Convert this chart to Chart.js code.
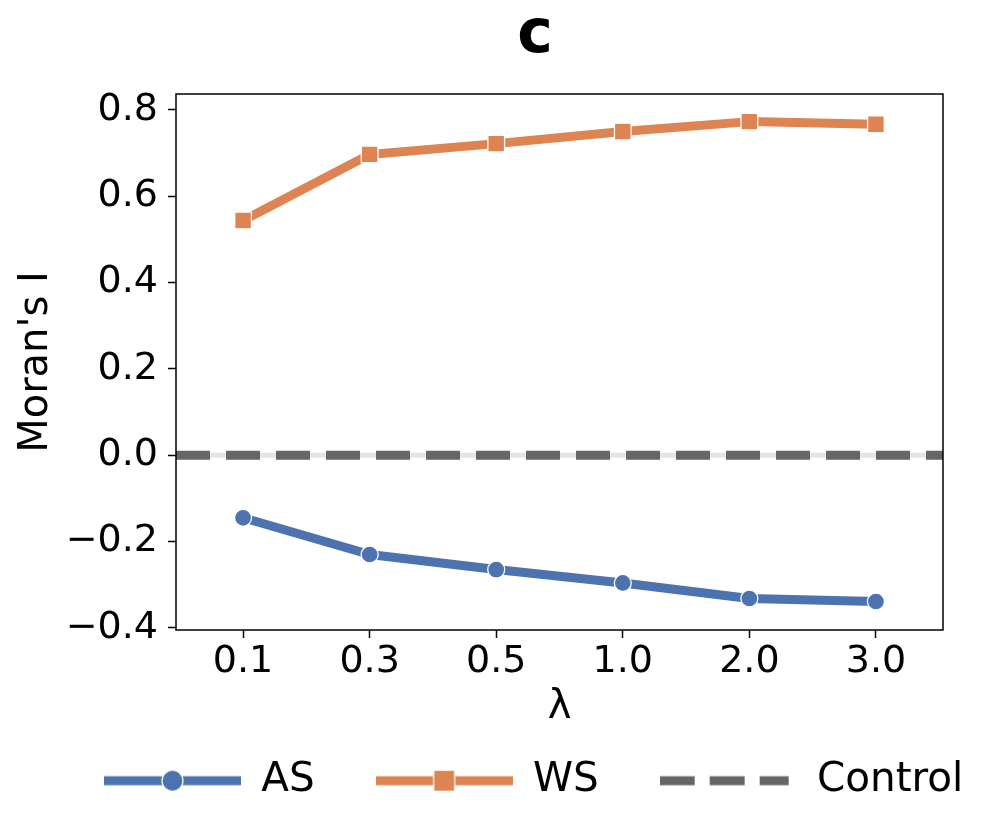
<!DOCTYPE html>
<html>
<head>
<meta charset="utf-8">
<script src="https://cdn.jsdelivr.net/npm/chart.js@4.4.1/dist/chart.umd.min.js"></script>
<style>
  html, body { margin: 0; padding: 0; background: #fff; }
  #wrap { width: 996px; height: 839px; position: relative; }
</style>
</head>
<body>
<div id="wrap"><canvas id="chart"></canvas></div>
<script>
// Data
const lambdaLabels = ['0.1', '0.3', '0.5', '1.0', '2.0', '3.0'];
const asValues = [-0.145, -0.230, -0.265, -0.296, -0.332, -0.339];
const wsValues = [0.544, 0.697, 0.722, 0.750, 0.773, 0.767];
const controlValue = [0, 0];
const yTicks = [-0.4, -0.2, 0.0, 0.2, 0.4, 0.6, 0.8];

const BLUE = '#4c72b0';
const ORANGE = '#dd8452';
const GRAY = '#666666';
const X_MIN = -0.53, X_MAX = 5.53;

Chart.defaults.font.family = "'DejaVu Sans', sans-serif";
Chart.defaults.color = '#000';

function toPoints(values) {
  return values.map((v, i) => ({ x: i, y: v }));
}

// little line+marker samples for the legend
function legendSample(color, marker, dashed) {
  const c = document.createElement('canvas');
  c.width = 137;
  c.height = 26;
  const g = c.getContext('2d');
  g.strokeStyle = color;
  g.lineWidth = 9;
  if (dashed) {
    g.setLineDash([35, 15]);
    g.beginPath(); g.moveTo(0, 13); g.lineTo(129, 13); g.stroke();
  } else {
    g.beginPath(); g.moveTo(0, 13); g.lineTo(137, 13); g.stroke();
  }
  g.fillStyle = color;
  g.strokeStyle = '#fff';
  g.lineWidth = 1.2;
  if (marker === 'circle') {
    g.beginPath(); g.arc(68.5, 13, 10.5, 0, Math.PI * 2); g.fill(); g.stroke();
  } else if (marker === 'rect') {
    g.fillRect(58, 2.5, 21, 21); g.strokeRect(58, 2.5, 21, 21);
  }
  return c;
}

const legendItems = [
  { text: 'AS', img: legendSample(BLUE, 'circle', false) },
  { text: 'WS', img: legendSample(ORANGE, 'rect', false) },
  { text: 'Control', img: legendSample(GRAY, null, true) }
];

// box around the plot like matplotlib spines
const frame = {
  id: 'frame',
  afterDatasetsDraw(chart) {
    const a = chart.chartArea;
    const ctx = chart.ctx;
    ctx.save();
    ctx.strokeStyle = '#000';
    ctx.lineWidth = 1.5;
    ctx.strokeRect(a.left, a.top, a.right - a.left, a.bottom - a.top);
    ctx.restore();
  }
};

// move legend and title to where the reference has them
const nudge = {
  id: 'nudge',
  afterLayout(chart) {
    const lg = chart.legend;
    lg.left += 43; lg.right += 43;
    lg.top -= 28; lg.bottom -= 28;
    const tb = chart.titleBlock;
    tb.left += 37; tb.right += 37;
  }
};

new Chart(document.getElementById('chart'), {
  type: 'line',
  data: {
    datasets: [
      {
        label: 'AS',
        data: toPoints(asValues),
        borderColor: BLUE,
        backgroundColor: BLUE,
        borderWidth: 9,
        borderJoinStyle: 'round',
        pointStyle: 'circle',
        pointRadius: 8.5,
        pointBackgroundColor: BLUE,
        pointBorderColor: '#fff',
        pointBorderWidth: 1.3
      },
      {
        label: 'WS',
        data: toPoints(wsValues),
        borderColor: ORANGE,
        backgroundColor: ORANGE,
        borderWidth: 9,
        borderJoinStyle: 'round',
        pointStyle: 'rect',
        pointRadius: 11.8,
        pointBackgroundColor: ORANGE,
        pointBorderColor: '#fff',
        pointBorderWidth: 1.3
      },
      {
        label: 'Control',
        data: [{ x: X_MIN, y: controlValue[0] }, { x: X_MAX, y: controlValue[1] }],
        borderColor: GRAY,
        borderWidth: 9,
        borderDash: [34, 16],
        pointRadius: 0
      },
      {
        label: 'zero',
        data: [{ x: X_MIN, y: controlValue[0] }, { x: X_MAX, y: controlValue[1] }],
        borderColor: '#e4e4e4',
        borderWidth: 5,
        pointRadius: 0
      }
    ]
  },
  options: {
    responsive: true,
    maintainAspectRatio: false,
    animation: false,
    events: [],
    layout: { padding: 0 },
    plugins: {
      tooltip: { enabled: false },
      title: {
        display: true,
        text: 'c',
        font: { size: 60, weight: 'bold', lineHeight: 1 },
        padding: { top: 6, bottom: 28 }
      },
      legend: {
        position: 'bottom',
        align: 'start',
        labels: {
          usePointStyle: true,
          pointStyleWidth: 137,
          padding: 61,
          font: { size: 40.5 },
          generateLabels() {
            return legendItems.map((it, i) => ({
              text: it.text,
              pointStyle: it.img,
              fillStyle: 'transparent',
              strokeStyle: 'transparent',
              lineWidth: 0,
              hidden: false,
              datasetIndex: i
            }));
          }
        }
      }
    },
    scales: {
      x: {
        type: 'linear',
        min: X_MIN,
        max: X_MAX,
        afterBuildTicks(scale) {
          scale.ticks = lambdaLabels.map((_, i) => ({ value: i }));
        },
        afterFit(scale) { scale.height = 97.5; },
        ticks: {
          font: { size: 38, lineHeight: 1 },
          padding: 5,
          maxRotation: 0,
          autoSkip: false,
          callback: (v) => lambdaLabels[v]
        },
        grid: {
          drawOnChartArea: false,
          drawTicks: true,
          tickLength: 8,
          tickColor: '#000',
          tickWidth: 1.5
        },
        border: { display: false },
        title: {
          display: true,
          text: 'λ',
          font: { size: 40, lineHeight: 1 },
          padding: { top: 0, bottom: 0 }
        }
      },
      y: {
        min: -0.405,
        max: 0.837,
        afterBuildTicks(scale) {
          scale.ticks = yTicks.map(v => ({ value: v }));
        },
        afterFit(scale) { scale.width = 176; },
        ticks: {
          font: { size: 38, lineHeight: 1 },
          padding: 10,
          callback: (v) => (v < 0 ? '\u2212' + Math.abs(v).toFixed(1) : v.toFixed(1))
        },
        grid: {
          drawOnChartArea: false,
          drawTicks: true,
          tickLength: 8,
          tickColor: '#000',
          tickWidth: 1.5
        },
        border: { display: false },
        title: {
          display: true,
          text: "Moran's I",
          font: { size: 40, lineHeight: 1 },
          padding: { top: 17, bottom: 0 }
        }
      },
      yRight: {
        position: 'right',
        display: true,
        ticks: { display: false },
        grid: { display: false },
        border: { display: false },
        afterFit(scale) { scale.width = 53; }
      }
    }
  },
  plugins: [frame, nudge]
});
</script>
</body>
</html>
